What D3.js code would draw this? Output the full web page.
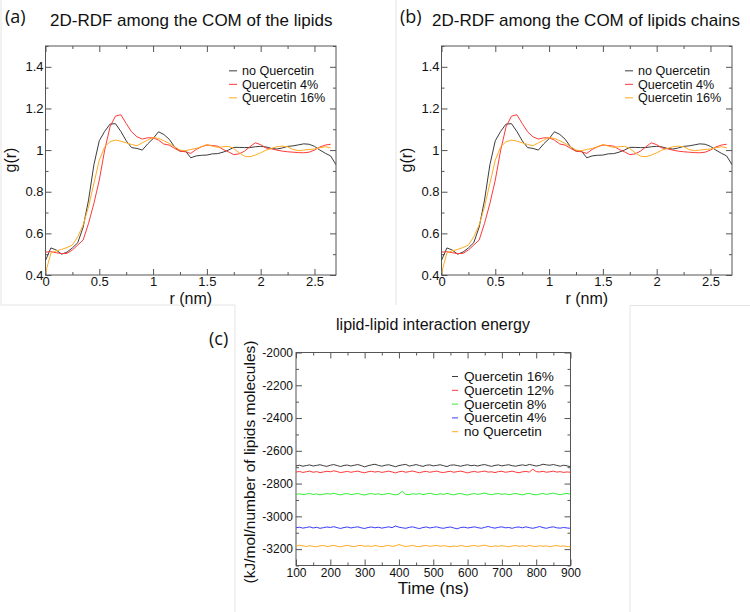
<!DOCTYPE html>
<html><head><meta charset="utf-8">
<script src="https://cdn.jsdelivr.net/npm/d3@7"></script>
<style>
body{margin:0;background:#fff;}
svg{display:block;}
text{font-family:"Liberation Sans",Arial,sans-serif;fill:#111;}
</style></head>
<body>
<svg id="c" width="750" height="612"></svg>
<script>
// ---------- DATA ----------
const rdfR = [0,0.05,0.1,0.15,0.2,0.25,0.3,0.35,0.4,0.45,0.5,0.55,0.6,0.65,0.7,0.75,0.8,0.85,0.9,0.95,1,1.05,1.1,1.15,1.2,1.25,1.3,1.35,1.4,1.45,1.5,1.55,1.6,1.65,1.7,1.75,1.8,1.85,1.9,1.95,2,2.05,2.1,2.15,2.2,2.25,2.3,2.35,2.4,2.45,2.5,2.55,2.6,2.65,2.7];
const gNoQuercetin = [0.47,0.53,0.52,0.50,0.51,0.53,0.555,0.63,0.76,0.93,1.045,1.09,1.125,1.127,1.09,1.045,1.012,1.008,1.0,1.03,1.055,1.088,1.075,1.052,1.015,0.995,0.996,0.963,0.972,0.975,0.976,0.982,0.983,0.99,1.0,1.013,1.013,1.012,1.012,1.016,1.018,1.015,1.008,1.005,1.01,1.018,1.02,1.025,1.03,1.028,1.018,1.0,0.985,0.972,0.93];
const gQuercetin4 = [0.51,0.512,0.507,0.503,0.504,0.52,0.544,0.568,0.648,0.744,0.856,1.0,1.112,1.163,1.17,1.128,1.088,1.064,1.053,1.059,1.059,1.048,1.029,1.024,1.008,0.995,0.992,0.984,1.003,1.016,1.024,1.022,1.019,1.003,0.992,0.978,0.982,0.995,1.016,1.035,1.026,1.01,1.006,1.0,0.995,0.992,0.99,0.988,0.987,0.99,1.0,1.015,1.024,1.028];
const gQuercetin16 = [0.41,0.505,0.516,0.523,0.532,0.544,0.584,0.64,0.728,0.84,0.952,1.016,1.04,1.048,1.043,1.035,1.027,1.021,1.035,1.048,1.061,1.056,1.045,1.032,1.016,1.0,0.997,1.003,1.008,1.016,1.027,1.019,1.013,1.016,1.018,1.008,0.987,0.971,0.968,0.976,0.987,1.0,1.008,1.016,1.019,1.016,1.003,0.997,1.0,1.003,1.005,1.011,1.016,1.011];
const rdfXTicks = [0,0.5,1,1.5,2,2.5];
const rdfYTicks = [0.4,0.6,0.8,1,1.2,1.4];
const rdfLegend = ["no Quercetin","Quercetin 4%","Quercetin 16%"];

const timeNs = [100,110,120,130,140,150,160,170,180,190,200,210,220,230,240,250,260,270,280,290,300,310,320,330,340,350,360,370,380,390,400,410,420,430,440,450,460,470,480,490,500,510,520,530,540,550,560,570,580,590,600,610,620,630,640,650,660,670,680,690,700,710,720,730,740,750,760,770,780,790,800,810,820,830,840,850,860,870,880,890,900];
const eQ16 = [-2692,-2688,-2694,-2690,-2686,-2693,-2689,-2685,-2691,-2695,
 -2688,-2684,-2690,-2696,-2689,-2687,-2693,-2688,-2684,-2690,
 -2698,-2691,-2686,-2682,-2689,-2694,-2688,-2685,-2691,-2697,
 -2690,-2686,-2683,-2693,-2689,-2684,-2690,-2695,-2688,-2686,
 -2692,-2689,-2685,-2691,-2696,-2688,-2686,-2690,-2694,-2689,
 -2685,-2691,-2688,-2693,-2687,-2684,-2690,-2695,-2689,-2686,
 -2692,-2688,-2685,-2691,-2694,-2689,-2686,-2690,-2683,-2688,
 -2693,-2689,-2682,-2686,-2688,-2684,-2689,-2694,-2688,-2692,
 -2697];
const eQ12 = [-2730,-2726,-2732,-2728,-2724,-2731,-2727,-2733,-2729,-2725,
 -2728,-2722,-2727,-2733,-2729,-2726,-2731,-2727,-2724,-2730,
 -2734,-2728,-2725,-2730,-2726,-2732,-2728,-2724,-2729,-2735,
 -2728,-2725,-2731,-2727,-2723,-2729,-2734,-2728,-2726,-2731,
 -2727,-2724,-2730,-2733,-2728,-2725,-2731,-2727,-2724,-2729,
 -2735,-2729,-2726,-2731,-2727,-2724,-2730,-2728,-2733,-2727,
 -2725,-2731,-2728,-2724,-2730,-2734,-2728,-2726,-2730,-2712,
 -2727,-2729,-2725,-2731,-2728,-2724,-2730,-2727,-2732,-2729,
 -2731];
const eQ8 = [-2866,-2862,-2868,-2864,-2860,-2867,-2863,-2869,-2865,-2861,
 -2864,-2859,-2865,-2869,-2863,-2861,-2867,-2864,-2860,-2866,
 -2870,-2864,-2861,-2866,-2862,-2868,-2864,-2860,-2865,-2869,
 -2864,-2847,-2866,-2868,-2862,-2865,-2861,-2867,-2863,-2859,
 -2864,-2868,-2862,-2866,-2860,-2865,-2869,-2863,-2861,-2866,
 -2870,-2864,-2861,-2866,-2862,-2858,-2864,-2868,-2863,-2861,
 -2866,-2862,-2868,-2864,-2860,-2865,-2869,-2863,-2860,-2866,
 -2869,-2864,-2861,-2866,-2862,-2858,-2864,-2868,-2863,-2860,
 -2865];
const eQ4 = [-3070,-3066,-3072,-3068,-3064,-3071,-3067,-3073,-3069,-3065,
 -3068,-3063,-3069,-3074,-3068,-3065,-3071,-3067,-3064,-3070,
 -3074,-3068,-3065,-3070,-3066,-3072,-3068,-3064,-3069,-3059,
 -3066,-3070,-3073,-3067,-3064,-3070,-3075,-3068,-3065,-3071,
 -3067,-3064,-3070,-3073,-3068,-3065,-3071,-3076,-3068,-3066,
 -3071,-3068,-3064,-3069,-3073,-3067,-3062,-3068,-3072,-3067,
 -3064,-3070,-3068,-3073,-3067,-3065,-3070,-3064,-3069,-3073,
 -3068,-3062,-3069,-3073,-3067,-3064,-3070,-3072,-3068,-3071,
 -3073];
const eNoQ = [-3182,-3176,-3180,-3184,-3179,-3183,-3186,-3180,-3178,-3184,
 -3181,-3177,-3183,-3186,-3180,-3178,-3182,-3185,-3179,-3177,
 -3183,-3180,-3184,-3178,-3182,-3186,-3181,-3177,-3183,-3180,
 -3172,-3179,-3184,-3181,-3177,-3183,-3186,-3180,-3178,-3183,
 -3180,-3177,-3183,-3179,-3182,-3186,-3181,-3184,-3178,-3182,
 -3185,-3180,-3178,-3183,-3179,-3176,-3182,-3185,-3180,-3183,
 -3179,-3182,-3186,-3181,-3178,-3183,-3180,-3184,-3177,-3182,
 -3185,-3179,-3183,-3180,-3186,-3181,-3178,-3183,-3180,-3184,
 -3186];
const energyLegend = ["Quercetin 16%","Quercetin 12%","Quercetin 8%","Quercetin 4%","no Quercetin"];
const timeTicks = [100,200,300,400,500,600,700,800,900];
const energyTicks = [-3200,-3000,-2800,-2600,-2400,-2200,-2000];

// ---------- DRAW ----------
const svg = d3.select("#c");
const axisCol = "#555";

// faint panel borders
const borderPaths = [
  [[1,0],[1,305],[235,305]],
  [[396,0],[396,305]],
  [[235,305],[235,612]],
  [[630,612],[630,305.5],[750,305.5]]
];
borderPaths.forEach(p => svg.append("path").attr("d", d3.line()(p))
  .attr("fill","none").attr("stroke","#e4e4e4").attr("stroke-width",1));

function panel(cfg){
  const g = svg.append("g");
  const x = d3.scaleLinear().domain(cfg.xDomain).range([cfg.left, cfg.right]);
  const y = d3.scaleLinear().domain(cfg.yDomain).range([cfg.bottom, cfg.top]);
  const fmt = d => String(d);
  const addAxis = (axis, tr) => {
    const a = g.append("g").attr("transform", tr).call(axis);
    a.select(".domain").remove();
    a.selectAll(".tick line").attr("stroke", axisCol);
    a.selectAll("text").attr("font-size", cfg.tickFont).attr("fill","#111")
      .style("font-family",'"Liberation Sans",Arial,sans-serif');
    return a;
  };
  addAxis(d3.axisBottom(x).tickValues(cfg.xTicks).tickSize(-6).tickPadding(cfg.xPad).tickFormat(fmt), `translate(0,${cfg.bottom})`);
  addAxis(d3.axisBottom(x).tickValues(cfg.xMinor).tickSize(-3).tickFormat(""), `translate(0,${cfg.bottom})`);
  addAxis(d3.axisTop(x).tickValues(cfg.xTicks).tickSize(-6).tickFormat(""), `translate(0,${cfg.top})`);
  addAxis(d3.axisTop(x).tickValues(cfg.xMinor).tickSize(-3).tickFormat(""), `translate(0,${cfg.top})`);
  addAxis(d3.axisLeft(y).tickValues(cfg.yTicks).tickSize(-6).tickPadding(cfg.yPad).tickFormat(fmt), `translate(${cfg.left},0)`);
  addAxis(d3.axisLeft(y).tickValues(cfg.yMinor).tickSize(-3).tickFormat(""), `translate(${cfg.left},0)`);
  addAxis(d3.axisRight(y).tickValues(cfg.yTicks).tickSize(-6).tickFormat(""), `translate(${cfg.right},0)`);
  addAxis(d3.axisRight(y).tickValues(cfg.yMinor).tickSize(-3).tickFormat(""), `translate(${cfg.right},0)`);
  g.append("rect").attr("x",cfg.left).attr("y",cfg.top)
    .attr("width",cfg.right-cfg.left).attr("height",cfg.bottom-cfg.top)
    .attr("fill","none").attr("stroke",axisCol).attr("stroke-width",1);

  const clip = "clip" + cfg.id;
  g.append("clipPath").attr("id",clip).append("rect")
    .attr("x",cfg.left).attr("y",cfg.top).attr("width",cfg.right-cfg.left).attr("height",cfg.bottom-cfg.top);
  cfg.series.forEach(s => {
    const pts = s.ys.map((v,i)=>[cfg.xs[i], v]).filter(p=>p[0]!==undefined);
    g.append("path").attr("clip-path",`url(#${clip})`)
      .attr("d", d3.line().x(p=>x(p[0])).y(p=>y(p[1]))(pts))
      .attr("fill","none").attr("stroke",s.color).attr("stroke-width",1)
      .attr("stroke-linejoin","round");
  });

  cfg.series.forEach((s,i)=>{
    const yy = cfg.legY + i*cfg.legDy;
    g.append("line").attr("x1",cfg.legX).attr("x2",cfg.legX+cfg.legLen)
      .attr("y1",yy-cfg.legFont*0.33).attr("y2",yy-cfg.legFont*0.33)
      .attr("stroke",s.color).attr("stroke-width",1);
    g.append("text").attr("x",cfg.legTextX).attr("y",yy)
      .attr("font-size",cfg.legFont).text(s.name);
  });

  g.append("text").attr("x",(cfg.left+cfg.right)/2).attr("y",cfg.xLabY)
    .attr("text-anchor","middle").attr("font-size",cfg.labFont).text(cfg.xLabel);
  g.append("text").attr("transform",`translate(${cfg.yLabX},${cfg.yLabCY}) rotate(-90)`)
    .attr("text-anchor","middle").attr("font-size",cfg.yLabFont).text(cfg.yLabel);
  g.append("text").attr("x",cfg.titleX).attr("y",cfg.titleY)
    .attr("text-anchor",cfg.titleAnchor).attr("font-size",cfg.titleFont).text(cfg.title);
  g.append("text").attr("x",cfg.tagX).attr("y",cfg.tagY)
    .style("font-family",'"Open Sans","Noto Sans",sans-serif')
    .attr("font-size",18).text(cfg.tag);
}

const rdfSeries = [
  {name: rdfLegend[0], ys: gNoQuercetin, color:"#3c3c3c"},
  {name: rdfLegend[1], ys: gQuercetin4, color:"#ff3838"},
  {name: rdfLegend[2], ys: gQuercetin16, color:"#ffaa22"}
];
const rdfXMinor = [0.25,0.75,1.25,1.75,2.25];
const rdfYMinor = [0.5,0.7,0.9,1.1,1.3,1.5];

function rdfPanel(id, left, right, title, titleX, tag, tagX){
  panel({id, left, right, top:46, bottom:275,
    xDomain:[0,2.7], yDomain:[0.4,1.5], xs: rdfR,
    xTicks: rdfXTicks, xMinor: rdfXMinor, yTicks: rdfYTicks, yMinor: rdfYMinor,
    tickFont:13, xPad:2, yPad:2,
    series: rdfSeries,
    legX: right-107, legLen:8, legTextX: right-94, legY:75, legDy:13.5, legFont:12.6,
    xLabel:"r (nm)", xLabY:303.5, labFont:16,
    yLabel:"g(r)", yLabX: left-30, yLabCY:160, yLabFont:16,
    title, titleX, titleY:26, titleAnchor:"start", titleFont:17,
    tag, tagX, tagY:23});
}
rdfPanel("a", 45.5, 336, "2D-RDF among the COM of the lipids", 50, "(a)", 5);
rdfPanel("b", 441.5, 732, "2D-RDF among the COM of lipids chains", 432, "(b)", 400);

panel({id:"c", left:296, right:570.5, top:352.5, bottom:565.5,
  xDomain:[100,900], yDomain:[-3300,-2000], xs: timeNs,
  xTicks: timeTicks, xMinor:[150,250,350,450,550,650,750,850],
  yTicks: energyTicks, yMinor:[-3300,-3100,-2900,-2700,-2500,-2300,-2100],
  tickFont:12, xPad:3, yPad:3,
  series: [
    {name: energyLegend[0], ys: eQ16, color:"#3c3c3c"},
    {name: energyLegend[1], ys: eQ12, color:"#ff3838"},
    {name: energyLegend[2], ys: eQ8, color:"#33ee33"},
    {name: energyLegend[3], ys: eQ4, color:"#3a3aff"},
    {name: energyLegend[4], ys: eNoQ, color:"#ffaa22"}
  ],
  legX:452, legLen:6, legTextX:464, legY:381, legDy:13.8, legFont:13.6,
  xLabel:"Time (ns)", xLabY:594, labFont:17,
  yLabel:"(kJ/mol/number of lipids molecules)", yLabX:255, yLabCY:462, yLabFont:15.5,
  title:"lipid-lipid interaction energy", titleX:433, titleY:330, titleAnchor:"middle", titleFont:16,
  tag:"(c)", tagX:209, tagY:345});
</script>
</body></html>
